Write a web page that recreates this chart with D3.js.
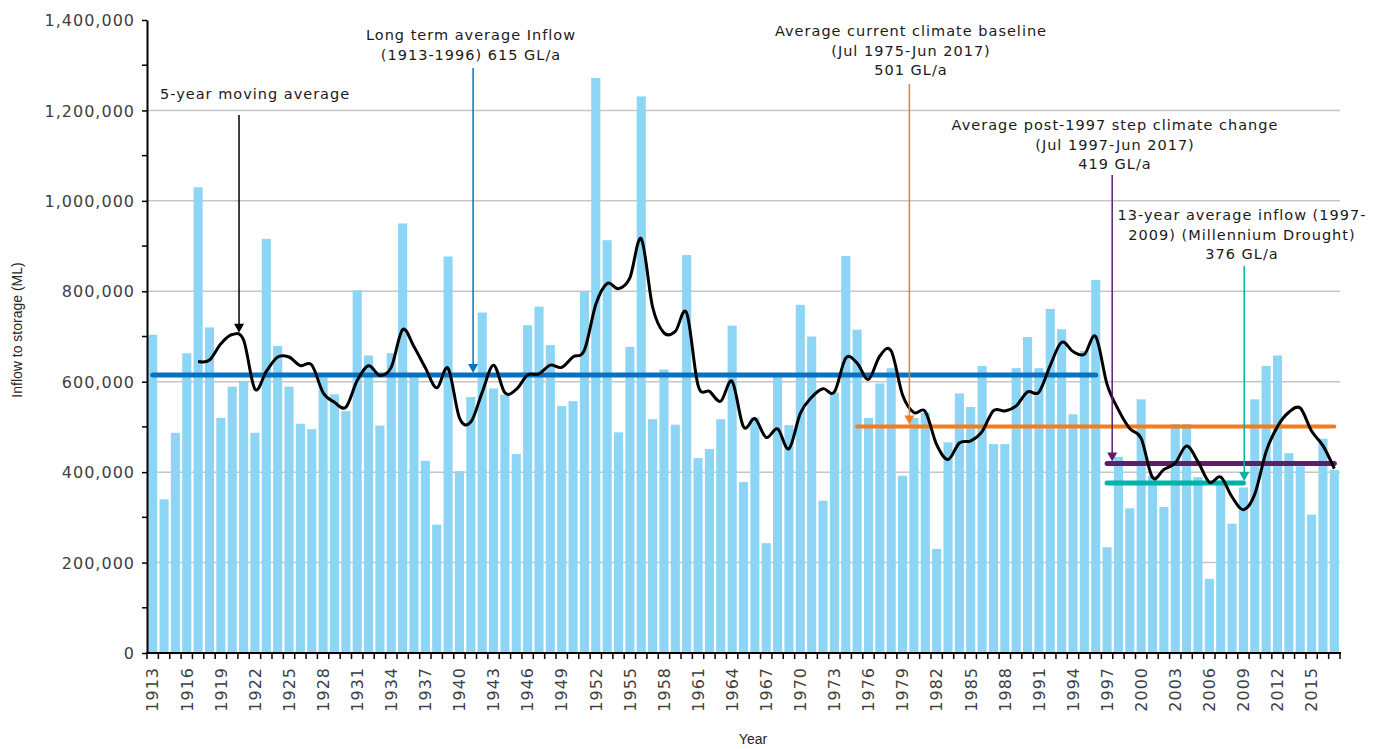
<!DOCTYPE html>
<html>
<head>
<meta charset="utf-8">
<script src="https://cdn.jsdelivr.net/npm/d3@7"></script>
<style>
  body { margin: 0; background: #fff; }
  svg { display: block; }
</style>
</head>
<body>
<svg id="chart" width="1375" height="749"></svg>
<script>
// yearly inflow to storage (ML), 1913 - 2017
const years = d3.range(1913, 2018)

const inflow = [
  704000, 340000, 487000, 663000, 1030000, 720000, 520000, 589000, 602000, 487000,
  916000, 679000, 589000, 507000, 495000, 609000, 572000, 535000, 802000, 658000,
  503000, 663000, 950000, 612000, 425000, 284000, 877000, 402000, 566000, 753000,
  585000, 571000, 440000, 725000, 766000, 681000, 546000, 557000, 799000, 1272000,
  913000, 488000, 677000, 1231000, 517000, 627000, 505000, 880000, 431000, 451000,
  517000, 724000, 378000, 521000, 243000, 612000, 504000, 770000, 700000, 337000,
  576000, 878000, 715000, 520000, 596000, 630000, 392000, 520000, 532000, 230000,
  466000, 574000, 544000, 635000, 462000, 462000, 630000, 699000, 630000, 761000,
  716000, 528000, 668000, 825000, 234000, 434000, 320000, 561000, 392000, 323000,
  506000, 506000, 389000, 164000, 380000, 286000, 366000, 561000, 635000, 658000,
  442000, 413000, 306000, 474000, 405000
]

// period averages drawn as horizontal lines
const avgValues = [615000, 501000, 419000, 376000]
const avgStart = [1913, 1975, 1997, 1997]
const avgEnd = [1996, 2017, 2017, 2009]
const avgColors = ['#0a72bd', '#f47b20', '#5c2068', '#00b3a8']

const yTicks = [0, 200000, 400000, 600000, 800000, 1000000, 1200000, 1400000]

const svg = d3.select('#chart')

const x = d3.scaleBand()
  .domain(years)
  .range([147, 1340])
  .paddingInner(0.2)
  .paddingOuter(0.1)

const y = d3.scaleLinear().domain([0, 1400000]).range([653, 20])

// centre of a (possibly fractional) year
const xc = yr => x(years[0]) + x.bandwidth() / 2 + (yr - years[0]) * x.step()

// gridlines
svg.append('g')
  .selectAll('line')
  .data(yTicks.filter(d => d > 0 && d < 1400000))
  .join('line')
  .attr('x1', 147)
  .attr('x2', 1340)
  .attr('y1', d => y(d))
  .attr('y2', d => y(d))
  .attr('stroke', '#c6c6c6')
  .attr('stroke-width', 1.5)

// bars
svg.append('g')
  .selectAll('rect')
  .data(inflow)
  .join('rect')
  .attr('x', (d, i) => x(years[i]))
  .attr('y', d => y(d))
  .attr('width', x.bandwidth())
  .attr('height', d => y(0) - y(d))
  .attr('fill', '#8dd5f4')

// average lines
svg.append('g')
  .selectAll('line')
  .data(avgValues)
  .join('line')
  .attr('x1', (d, i) => xc(avgStart[i]))
  .attr('x2', (d, i) => xc(avgEnd[i]))
  .attr('y1', d => y(d))
  .attr('y2', d => y(d))
  .attr('stroke', (d, i) => avgColors[i])
  .attr('stroke-width', (d, i) => (i === 1 ? 4 : 5))
  .attr('stroke-linecap', 'round')

// 5-year trailing moving average of the bars
const movingAvg = years
  .map((yr, i) => (i < 4 ? null : [yr, d3.mean(inflow.slice(i - 4, i + 1))]))
  .filter(d => d)

svg.append('path')
  .datum(movingAvg)
  .attr('fill', 'none')
  .attr('stroke', '#000')
  .attr('stroke-width', 3)
  .attr('stroke-linejoin', 'round')
  .attr('d', d3.line().x(d => xc(d[0])).y(d => y(d[1])).curve(d3.curveCardinal.tension(0)))

// y axis
const yAxis = d3.axisLeft(y)
  .tickValues(yTicks)
  .tickSize(5)
  .tickSizeOuter(0)
  .tickPadding(7)
  .tickFormat(d3.format(','))

const gy = svg.append('g').attr('transform', 'translate(147,0)').call(yAxis)
gy.select('.domain').attr('stroke', '#000').attr('stroke-width', 2)
gy.selectAll('.tick line').attr('stroke', '#000').attr('stroke-width', 1.5)
gy.selectAll('.tick text')
  .attr('fill', '#404040')
  .attr('dy', '0.35em')
  .style('font-family', 'DejaVu Sans')
  .style('font-size', '16px')
  .style('letter-spacing', '1px')

// minor ticks
gy.append('g')
  .selectAll('line')
  .data(yTicks.slice(1).map(d => d - 100000))
  .join('line')
  .attr('x1', -5)
  .attr('x2', 0)
  .attr('y1', d => y(d))
  .attr('y2', d => y(d))
  .attr('stroke', '#000')
  .attr('stroke-width', 1.5)

// x axis
const gx = svg.append('g').attr('transform', 'translate(0,653)')
gx.append('line')
  .attr('x1', 146)
  .attr('x2', 1341)
  .attr('stroke', '#000')
  .attr('stroke-width', 2)

// tick marks between categories
gx.append('g')
  .selectAll('line')
  .data(years.concat([years[years.length - 1] + 1]))
  .join('line')
  .attr('x1', d => xc(d) - x.step() / 2)
  .attr('x2', d => xc(d) - x.step() / 2)
  .attr('y1', 0)
  .attr('y2', 6)
  .attr('stroke', '#000')
  .attr('stroke-width', 1.5)

const xAxis = d3.axisBottom(x)
  .tickValues(years.filter(yr => (yr - years[0]) % 3 === 0))
  .tickSize(0)
  .tickSizeOuter(0)

const gxl = gx.append('g').call(xAxis)
gxl.select('.domain').remove()
gxl.selectAll('.tick text')
  .attr('transform', 'rotate(-90)')
  .attr('x', -14)
  .attr('y', 0)
  .attr('dy', '0.36em')
  .attr('fill', '#404040')
  .style('text-anchor', 'end')
  .style('font-family', 'DejaVu Sans')
  .style('font-size', '16px')
  .style('letter-spacing', '1px')

// axis titles
svg.append('text')
  .attr('transform', 'translate(22,330) rotate(-90)')
  .attr('text-anchor', 'middle')
  .attr('fill', '#262626')
  .style('font-family', 'Liberation Sans')
  .style('font-size', '14px')
  .text('Inflow to storage (ML)')

svg.append('text')
  .attr('x', 753)
  .attr('y', 744)
  .attr('text-anchor', 'middle')
  .attr('fill', '#262626')
  .style('font-family', 'Liberation Sans')
  .style('font-size', '14px')
  .text('Year')

// annotations with arrows
const notes = [
  { lines: ['5-year moving average'], anchor: 'start', tx: 160, ty: 99,
    ax: 1920.6, ay: 115, tip: 704000, color: '#000' },
  { lines: ['Long term average Inflow', '(1913-1996) 615 GL/a'], anchor: 'middle', tx: 471, ty: 40,
    ax: 1941.2, ay: 68, tip: avgValues[0], color: avgColors[0] },
  { lines: ['Average current climate baseline', '(Jul 1975-Jun 2017)', '501 GL/a'], anchor: 'middle', tx: 911, ty: 36,
    ax: 1979.6, ay: 84, tip: avgValues[1], color: avgColors[1] },
  { lines: ['Average post-1997 step climate change', '(Jul 1997-Jun 2017)', '419 GL/a'], anchor: 'middle', tx: 1115, ty: 130,
    ax: 1997.45, ay: 175, tip: avgValues[2], color: avgColors[2] },
  { lines: ['13-year average inflow (1997-', '2009) (Millennium Drought)', '376 GL/a'], anchor: 'middle', tx: 1242, ty: 220,
    ax: 2009.07, ay: 266, tip: avgValues[3], color: avgColors[3] }
]

const gn = svg.append('g')
notes.forEach(n => {
  const t = gn.append('text')
    .attr('text-anchor', n.anchor)
    .attr('fill', '#1a1a1a')
    .style('font-family', 'DejaVu Sans')
    .style('font-size', '14.5px')
    .style('letter-spacing', '1px')
  n.lines.forEach((line, i) => {
    t.append('tspan').attr('x', n.tx).attr('y', n.ty + i * 19.5).text(line)
  })

  const ax = xc(n.ax)
  const tipY = y(n.tip) - 2
  gn.append('line')
    .attr('x1', ax)
    .attr('x2', ax)
    .attr('y1', n.ay)
    .attr('y2', tipY - 8)
    .attr('stroke', n.color)
    .attr('stroke-width', 1.5)
  gn.append('path')
    .attr('d', `M${ax - 5},${tipY - 9}L${ax + 5},${tipY - 9}L${ax},${tipY}Z`)
    .attr('fill', n.color)
})
</script>
</body>
</html>
